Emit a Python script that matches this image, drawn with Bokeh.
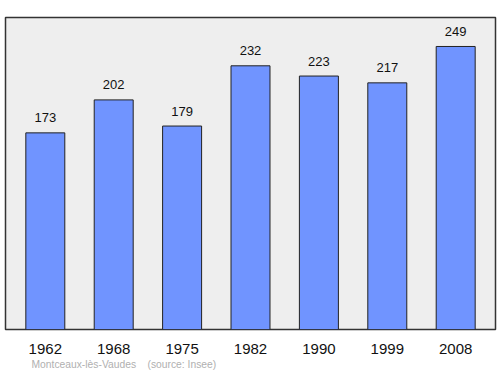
from bokeh.plotting import figure
from bokeh.models import ColumnDataSource, Title, FixedTicker
from bokeh.core.properties import value
from bokeh.embed import file_html
from bokeh.resources import INLINE

years = ["1962", "1968", "1975", "1982", "1990", "1999", "2008"]
population = [173, 202, 179, 232, 223, 217, 249]
footnote = "Montceaux-lès-Vaudes\u00a0\u00a0\u00a0\u00a0(source: Insee)"

idx = list(range(len(years)))
src = ColumnDataSource(dict(x=idx, top=population, label=[str(v) for v in population]))

p = figure(width=500, height=374, output_backend="svg", toolbar_location=None,
           x_range=(-0.582, 6.582), y_range=(0, 274.5),
           min_border_left=5, min_border_right=5, min_border_top=17, min_border_bottom=45)
p.background_fill_color = "#eeeeee"
p.border_fill_color = "white"
p.outline_line_color = "#333333"
p.outline_line_width = 1.5
p.grid.visible = False
p.yaxis.visible = False

p.vbar(x="x", top="top", bottom=0, width=0.57, source=src,
       fill_color="#7094ff", line_color="#222222", line_width=1)
p.text(x="x", y="top", text="label", source=src, y_offset=-15,
       text_align="center", text_baseline="middle",
       text_font=value("Liberation Sans"), text_font_size="13px", text_color="#111111")

ax = p.xaxis[0]
ax.ticker = FixedTicker(ticks=idx)
ax.major_label_overrides = {i: y for i, y in enumerate(years)}
ax.axis_line_color = None
ax.major_tick_line_color = None
ax.minor_tick_line_color = None
ax.major_label_standoff = 8
ax.major_label_text_font = "Liberation Sans"
ax.major_label_text_font_size = "15px"
ax.major_label_text_color = "#111111"

t = Title(text=footnote, align="left", offset=26, text_font="Liberation Sans",
          text_font_size="10.3px", text_font_style="normal", text_color="#b0b0b0",
          standoff=0)
p.add_layout(t, "below")

open("out.html", "w").write(file_html(p, INLINE))
